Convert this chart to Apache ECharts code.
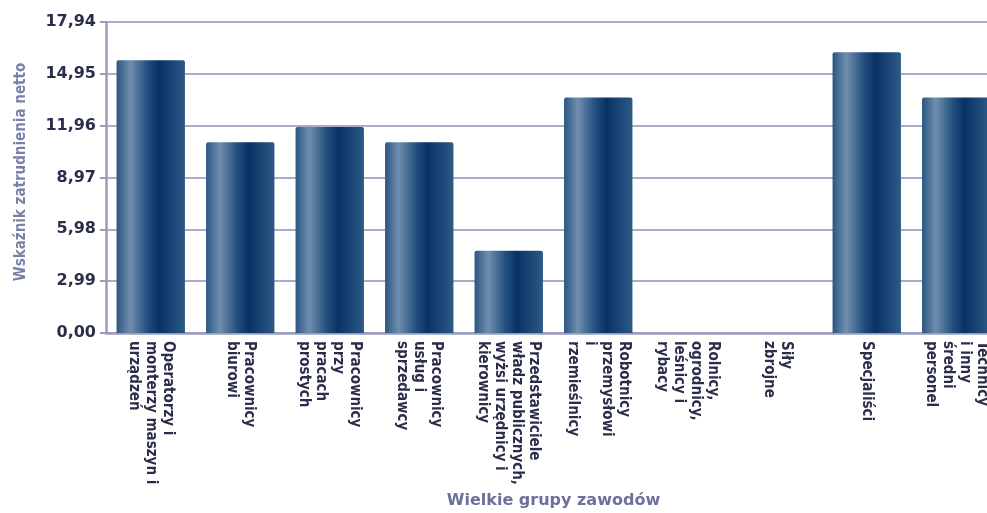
<!DOCTYPE html>
<html>
<head>
<meta charset="utf-8">
<script src="https://cdn.jsdelivr.net/npm/echarts@6/dist/echarts.min.js"></script>
<style>
html,body{margin:0;padding:0;background:#fff;overflow:hidden;}
#c{width:987px;height:513px;}
</style>
</head>
<body>
<div id="c"></div>
<script>
const categories = [
  "Operatorzy i\nmonterzy maszyn i\nurządzeń",
  "Pracownicy\nbiurowi",
  "Pracownicy\nprzy\npracach\nprostych",
  "Pracownicy\nusług i\nsprzedawcy",
  "Przedstawiciele\nwładz publicznych,\nwyżsi urzędnicy i\nkierownicy",
  "Robotnicy\nprzemysłowi\ni\nrzemieślnicy",
  "Rolnicy,\nogrodnicy,\nleśnicy i\nrybacy",
  "Siły\nzbrojne",
  "Specjaliści",
  "Technicy\ni inny\nśredni\npersonel"
];
const values = [15.74, 11.0, 11.89, 11.0, 4.75, 13.59, 0, 0, 16.2, 13.59];
const yTicks = [0, 2.99, 5.98, 8.97, 11.96, 14.95, 17.94];
const yAxisName = "Wskaźnik zatrudnienia netto";
const xAxisName = "Wielkie grupy zawodów";

const chart = echarts.init(document.getElementById('c'));
const barGrad = new echarts.graphic.LinearGradient(0, 0, 1, 0, [
  {offset: 0, color: '#2b5682'},
  {offset: 0.2, color: '#6f8fae'},
  {offset: 0.45, color: '#24507f'},
  {offset: 0.62, color: '#083266'},
  {offset: 0.85, color: '#1e4a79'},
  {offset: 1, color: '#2e5a86'}
]);
chart.setOption({
  animation: false,
  grid: {left: 106, width: 895, top: 22, height: 311, containLabel: false, outerBoundsMode: 'none'},
  xAxis: {
    type: 'category',
    data: categories,
    name: xAxisName,
    nameLocation: 'middle',
    nameGap: 159,
    nameTextStyle: {color: '#6d7099', fontWeight: 'bold', fontSize: 16, fontFamily: 'DejaVu Sans'},
    axisLine: {lineStyle: {color: '#9b9cbd', width: 2.5}},
    axisTick: {show: false},
    axisLabel: {
      interval: 0,
      rotate: -90,
      margin: 8,
      color: '#2b2e4a',
      fontWeight: 'bold',
      fontSize: 15,
      lineHeight: 17,
      fontFamily: 'DejaVu Sans Condensed, DejaVu Sans'
    }
  },
  yAxis: {
    type: 'value',
    min: 0,
    max: 17.94,
    interval: 2.99,
    name: yAxisName,
    nameLocation: 'middle',
    nameGap: 77,
    nameTextStyle: {color: '#7b80a8', fontWeight: 'bold', fontSize: 15, fontFamily: 'DejaVu Sans Condensed, DejaVu Sans', padding: [0, 0, 0, 11]},
    axisLine: {show: true, lineStyle: {color: '#9b9cbd', width: 2.5}},
    axisTick: {show: true, length: 6, lineStyle: {color: '#9b9cbd', width: 2}},
    splitLine: {lineStyle: {color: '#acacca', width: 2}},
    axisLabel: {
      margin: 10,
      color: '#2b2e4a',
      fontWeight: 'bold',
      fontSize: 16,
      fontFamily: "'DejaVu Sans', Verdana, sans-serif",
      formatter: v => v.toFixed(2).replace('.', ',')
    }
  },
  series: [{
    type: 'bar',
    data: values,
    barWidth: '76.4%',
    itemStyle: {color: barGrad, borderRadius: [2, 2, 0, 0]}
  }]
});
</script>
</body>
</html>
